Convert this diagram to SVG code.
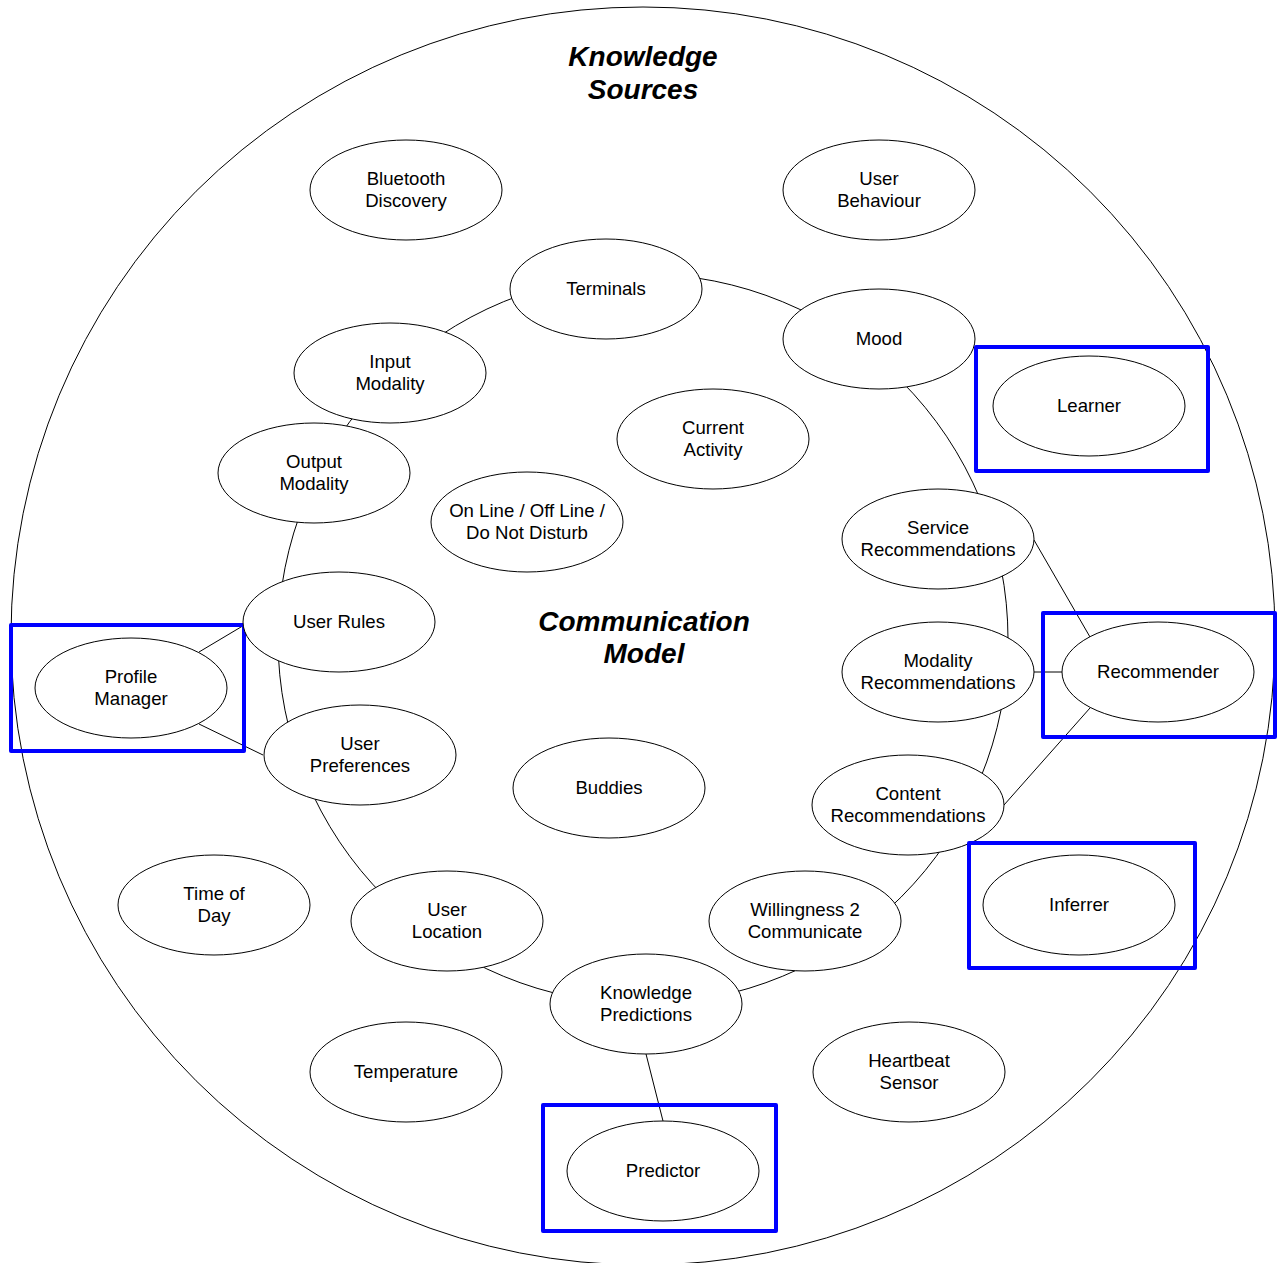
<svg xmlns="http://www.w3.org/2000/svg" width="1280" height="1263" viewBox="0 0 1280 1263">
  <style>
    .frame { fill: none; stroke: #000; stroke-width: 1; }
    .node ellipse { fill: #fff; stroke: #000; stroke-width: 1; }
    .node text, .title { font-family: "Liberation Sans", Arial, sans-serif; fill: #000; text-anchor: middle; }
    .node text { font-size: 18.6px; }
    .title { font-size: 28px; font-weight: bold; font-style: italic; }
    .agent { fill: none; stroke: #0000ff; stroke-width: 4; stroke-linejoin: round; }
    #connectors line { stroke: #000; stroke-width: 1; }
  </style>
  <rect width="1280" height="1263" fill="#fff"/>

  <!-- Knowledge sources boundary and communication model ring -->
  <ellipse class="frame" cx="643" cy="636" rx="632" ry="629"/>
  <circle class="frame" cx="643" cy="639" r="365"/>

  <g id="connectors">
    <line x1="199" y1="652" x2="246" y2="624"/>
    <line x1="199" y1="724" x2="263" y2="755"/>
    <line x1="1034" y1="540" x2="1090" y2="637"/>
    <line x1="1034" y1="672" x2="1062" y2="672"/>
    <line x1="1004" y1="805" x2="1090" y2="708"/>
    <line x1="646" y1="1054" x2="663" y2="1121"/>
  </g>

  <text class="title" x="643" y="66">Knowledge</text>
  <text class="title" x="643" y="99">Sources</text>
  <text class="title" x="644" y="631">Communication</text>
  <text class="title" x="644" y="663">Model</text>

  <g id="bluetooth-discovery" class="node">
    <ellipse cx="406" cy="190" rx="96" ry="50"/>
    <text x="406" y="185">Bluetooth</text>
    <text x="406" y="207">Discovery</text>
  </g>
  <g id="user-behaviour" class="node">
    <ellipse cx="879" cy="190" rx="96" ry="50"/>
    <text x="879" y="185">User</text>
    <text x="879" y="207">Behaviour</text>
  </g>
  <g id="terminals" class="node">
    <ellipse cx="606" cy="289" rx="96" ry="50"/>
    <text x="606" y="295">Terminals</text>
  </g>
  <g id="mood" class="node">
    <ellipse cx="879" cy="339" rx="96" ry="50"/>
    <text x="879" y="345">Mood</text>
  </g>
  <g id="input-modality" class="node">
    <ellipse cx="390" cy="373" rx="96" ry="50"/>
    <text x="390" y="368">Input</text>
    <text x="390" y="390">Modality</text>
  </g>
  <g id="output-modality" class="node">
    <ellipse cx="314" cy="473" rx="96" ry="50"/>
    <text x="314" y="468">Output</text>
    <text x="314" y="490">Modality</text>
  </g>
  <g id="current-activity" class="node">
    <ellipse cx="713" cy="439" rx="96" ry="50"/>
    <text x="713" y="434">Current</text>
    <text x="713" y="456">Activity</text>
  </g>
  <g id="online-status" class="node">
    <ellipse cx="527" cy="522" rx="96" ry="50"/>
    <text x="527" y="517">On Line / Off Line /</text>
    <text x="527" y="539">Do Not Disturb</text>
  </g>
  <g id="learner" class="node">
    <ellipse cx="1089" cy="406" rx="96" ry="50"/>
    <text x="1089" y="412">Learner</text>
    <rect class="agent" x="976" y="347" width="232" height="124"/>
  </g>
  <g id="service-recommendations" class="node">
    <ellipse cx="938" cy="539" rx="96" ry="50"/>
    <text x="938" y="534">Service</text>
    <text x="938" y="556">Recommendations</text>
  </g>
  <g id="modality-recommendations" class="node">
    <ellipse cx="938" cy="672" rx="96" ry="50"/>
    <text x="938" y="667">Modality</text>
    <text x="938" y="689">Recommendations</text>
  </g>
  <g id="recommender" class="node">
    <ellipse cx="1158" cy="672" rx="96" ry="50"/>
    <text x="1158" y="678">Recommender</text>
    <rect class="agent" x="1043" y="613" width="232" height="124"/>
  </g>
  <g id="content-recommendations" class="node">
    <ellipse cx="908" cy="805" rx="96" ry="50"/>
    <text x="908" y="800">Content</text>
    <text x="908" y="822">Recommendations</text>
  </g>
  <g id="profile-manager" class="node">
    <ellipse cx="131" cy="688" rx="96" ry="50"/>
    <text x="131" y="683">Profile</text>
    <text x="131" y="705">Manager</text>
    <rect class="agent" x="11" y="625" width="233" height="126"/>
  </g>
  <g id="user-rules" class="node">
    <ellipse cx="339" cy="622" rx="96" ry="50"/>
    <text x="339" y="628">User Rules</text>
  </g>
  <g id="user-preferences" class="node">
    <ellipse cx="360" cy="755" rx="96" ry="50"/>
    <text x="360" y="750">User</text>
    <text x="360" y="772">Preferences</text>
  </g>
  <g id="buddies" class="node">
    <ellipse cx="609" cy="788" rx="96" ry="50"/>
    <text x="609" y="794">Buddies</text>
  </g>
  <g id="time-of-day" class="node">
    <ellipse cx="214" cy="905" rx="96" ry="50"/>
    <text x="214" y="900">Time of</text>
    <text x="214" y="922">Day</text>
  </g>
  <g id="user-location" class="node">
    <ellipse cx="447" cy="921" rx="96" ry="50"/>
    <text x="447" y="916">User</text>
    <text x="447" y="938">Location</text>
  </g>
  <g id="willingness-to-communicate" class="node">
    <ellipse cx="805" cy="921" rx="96" ry="50"/>
    <text x="805" y="916">Willingness 2</text>
    <text x="805" y="938">Communicate</text>
  </g>
  <g id="knowledge-predictions" class="node">
    <ellipse cx="646" cy="1004" rx="96" ry="50"/>
    <text x="646" y="999">Knowledge</text>
    <text x="646" y="1021">Predictions</text>
  </g>
  <g id="temperature" class="node">
    <ellipse cx="406" cy="1072" rx="96" ry="50"/>
    <text x="406" y="1078">Temperature</text>
  </g>
  <g id="heartbeat-sensor" class="node">
    <ellipse cx="909" cy="1072" rx="96" ry="50"/>
    <text x="909" y="1067">Heartbeat</text>
    <text x="909" y="1089">Sensor</text>
  </g>
  <g id="inferrer" class="node">
    <ellipse cx="1079" cy="905" rx="96" ry="50"/>
    <text x="1079" y="911">Inferrer</text>
    <rect class="agent" x="969" y="843" width="226" height="125"/>
  </g>
  <g id="predictor" class="node">
    <ellipse cx="663" cy="1171" rx="96" ry="50"/>
    <text x="663" y="1177">Predictor</text>
    <rect class="agent" x="543" y="1105" width="233" height="126"/>
  </g>
</svg>
